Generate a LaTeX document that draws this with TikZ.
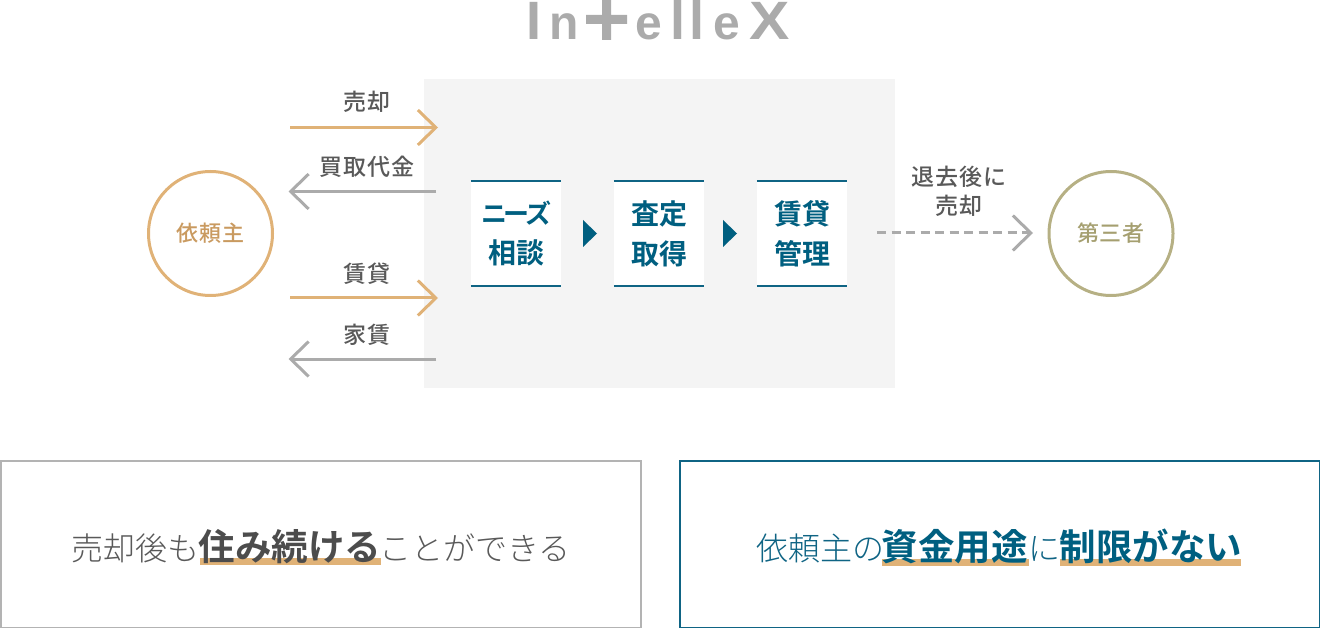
\documentclass[tikz,border=0pt]{standalone}
\usepackage{fontspec}
\setmainfont{Noto Sans CJK JP}
\newfontfamily\lightfont{Noto Sans CJK JP Light}
\newfontfamily\medfont[LetterSpace=4]{Noto Sans CJK JP Medium}
\newfontfamily\partyfont[LetterSpace=3]{Noto Sans CJK JP Medium}
\newfontfamily\boldfont{Noto Sans CJK JP Bold}
\newfontfamily\logofont{Liberation Sans Bold}
\usetikzlibrary{%
  arrows.meta,%
  calc,%
  positioning%
}
\definecolor{gold}{HTML}{E0B277}
\definecolor{goldtext}{HTML}{C99A60}
\definecolor{olive}{HTML}{B6B084}
\definecolor{olivetext}{HTML}{A59F70}
\definecolor{teal}{HTML}{0F6484}
\definecolor{tealdark}{HTML}{005F80}
\definecolor{greyline}{HTML}{ABABAB}
\definecolor{greytext}{HTML}{595959}
\definecolor{panelgrey}{HTML}{F4F4F4}
\tikzset{>={Straight Barb[length=18pt,width=35pt]},
  party/.style = {circle, draw, line width=3pt, minimum size=124pt, inner sep=0pt,
    font=\fontsize{22pt}{26pt}\partyfont},
  flow/.style = {->, line width=3pt},
  flowlabel/.style = {text=greytext, inner sep=0pt, align=center,
    font=\fontsize{23pt}{29pt}\medfont},
  card/.style = {fill=white, minimum width=90pt, minimum height=105pt, inner sep=0pt,
    align=center, text=tealdark, font=\fontsize{28pt}{40pt}\boldfont},
  notebox/.style = {draw, line width=2pt, minimum width=640pt, minimum height=167pt},
  thin/.style = {inner sep=0pt, anchor=base west, font=\fontsize{32pt}{36pt}\lightfont},
  heavy/.style = {inner sep=0pt, anchor=base west, font=\fontsize{36.5pt}{40pt}\boldfont},
  logo/.style = {inner sep=0pt, anchor=base, text=greyline}}

\begin{document}
\begin{tikzpicture}[x=1pt,y=-1pt]
  \useasboundingbox (0,0) rectangle (1320,628);
  % logo
  \node[logo,font=\fontsize{54pt}{54pt}\logofont] (logoI) at (534,40) {I};
  \node[logo,font=\fontsize{48pt}{48pt}\logofont] (logoN) at (564.5,40) {n};
  \node[logo,font=\fontsize{48pt}{48pt}\logofont] (logoEa) at (649,40) {e};
  \node[logo,font=\fontsize{54pt}{54pt}\logofont] (logoLa) at (678,40) {l};
  \node[logo,font=\fontsize{54pt}{54pt}\logofont] (logoLb) at (697,40) {l};
  \node[logo,font=\fontsize{48pt}{48pt}\logofont] (logoEb) at (726.5,40) {e};
  \node[logo,font=\fontsize{54pt}{54pt}\logofont,xscale=1.12,transform shape] (logoX) at (769.5,40) {X};
  \fill[greyline] (586,15) rectangle (627,24) (602,0) rectangle (611,40);
  % panel and steps
  \node[fill=panelgrey,minimum width=471pt,minimum height=309pt,inner sep=0pt] (panel) at (659.5,233.5) {};
  \node[card] (needs) at (516,233.5) {\fontsize{26pt}{40pt}\selectfont ニ\kern-4pt ー\kern-4pt ズ\\相談};
  \node[card] (assess) at (659,233.5) {査定\\取得};
  \node[card] (manage) at (802,233.5) {賃貸\\管理};
  \foreach \c in {needs,assess,manage} {
    \draw[teal,line width=2pt] (\c.north west) -- (\c.north east);
    \draw[teal,line width=2pt] (\c.south west) -- (\c.south east);
  }
  \fill[tealdark] (583,220) -- (597,233.5) -- (583,247) -- cycle;
  \fill[tealdark] (723,220) -- (737,233.5) -- (723,247) -- cycle;
  % parties
  \node[party,draw=gold,text=goldtext] (client) at (210.5,233.5) {依頼主};
  \node[party,draw=olive,text=olivetext] (third) at (1111,233.5) {第三者};
  % flows
  \coordinate (saleA) at (290,127.5);
  \coordinate (saleB) at (438,127.5);
  \coordinate (payA) at (436,191.5);
  \coordinate (payB) at (288.5,191.5);
  \coordinate (leaseA) at (290,298);
  \coordinate (leaseB) at (438,298);
  \coordinate (rentA) at (436,359);
  \coordinate (rentB) at (288.5,359);
  \coordinate (laterA) at (877,233);
  \coordinate (laterB) at (1033,233);
  \draw[flow,gold] (saleA) -- (saleB);
  \draw[flow,greyline] (payA) -- (payB);
  \draw[flow,gold] (leaseA) -- (leaseB);
  \draw[flow,greyline] (rentA) -- (rentB);
  \draw[flow,greyline,dash pattern=on 9pt off 5.5pt] (laterA) -- (laterB);
  \node[flowlabel] (saleText) at (367,101.5) {売却};
  \node[flowlabel] (payText) at (367,166.5) {買取代金};
  \node[flowlabel] (leaseText) at (367,273.5) {賃貸};
  \node[flowlabel] (rentText) at (367,334.5) {家賃};
  \node[flowlabel] (laterText) at (959,191.5) {退去後に\\売却};
  % notes
  \node[notebox,draw=greyline!90] (noteL) at (321,544) {};
  \node[notebox,draw=teal] (noteR) at (1000,544) {};
  \fill[gold] (200,558) rectangle (381,565);
  \fill[gold] (882,559) rectangle (1029,566);
  \fill[gold] (1060,559) rectangle (1241,566);
  \node[thin,text=greytext] (liveA) at (71,560) {売却後も};
  \node[heavy,text=greytext!85!black] (liveB) at (198.5,560) {住み続ける};
  \node[thin,text=greytext] (liveC) at (379,560) {ことができる};
  \node[thin,text=teal] (fundA) at (756,560) {依頼主の};
  \node[heavy,text=tealdark] (fundB) at (881.5,560) {資金用途};
  \node[thin,text=teal] (fundC) at (1028,560) {に};
  \node[heavy,text=tealdark] (fundD) at (1059.5,560) {制限がない};
\end{tikzpicture}
\end{document}
